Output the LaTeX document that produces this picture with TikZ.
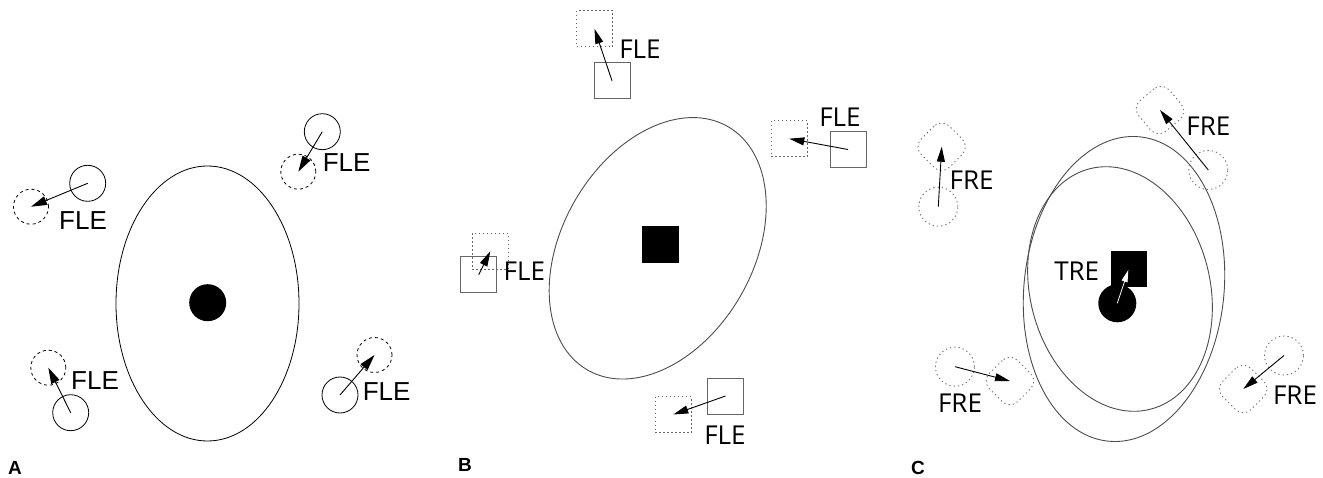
\documentclass[tikz,border=0pt]{standalone}
\usepackage{fontspec}
\setmainfont{Liberation Sans}
\newfontfamily\osans{Open Sans}
\usetikzlibrary{shapes.geometric,arrows.meta}
\tikzset{
  solidc/.style={circle,draw,line width=0.8pt,minimum size=36pt,inner sep=0pt},
  dashc/.style={circle,draw,line width=0.8pt,dash pattern=on 3pt off 3pt,minimum size=35pt,inner sep=0pt},
  arr/.style={line width=0.9pt,-{Triangle[length=16pt,width=9pt]}},
  barr/.style={line width=0.9pt,-{Triangle[length=15pt,width=8pt]}},
  solids/.style={rectangle,draw=black!60,line width=1pt,minimum size=36pt,inner sep=0pt},
  dots/.style={rectangle,draw=black!60,line width=0.9pt,dash pattern=on 1.5pt off 2.5pt,minimum size=36pt,inner sep=0pt},
  dotc/.style={circle,draw=black!55,line width=0.9pt,dash pattern=on 1.3pt off 3pt,minimum size=39pt,inner sep=0pt},
  dotr/.style={rectangle,rounded corners=11pt,draw=black!55,line width=0.9pt,dash pattern=on 1.3pt off 3pt,minimum size=40pt,inner sep=0pt},
  bigell/.style={ellipse,draw=black!70,line width=0.9pt,inner sep=0pt},
  lblA/.style={inner sep=0pt,font=\fontsize{26}{30}\selectfont},
  lblB/.style={inner sep=0pt,font=\osans\fontsize{26}{30}\selectfont},
  panel/.style={inner sep=0pt,font=\bfseries\fontsize{19}{21}\selectfont},
}
\begin{document}
\begin{tikzpicture}[x=1pt,y=-1pt]
\useasboundingbox (0,0) rectangle (1323,478);
% ---------------- Panel A ----------------
\node[ellipse,draw,line width=0.8pt,minimum width=183pt,minimum height=275pt,inner sep=0pt] (aell) at (207.5,303.5) {};
\node[circle,fill=black,minimum size=37pt,inner sep=0pt] (adot) at (207.7,302.7) {};
% upper left
\node[solidc] (a1s) at (87.7,183.3) {};
\node[dashc] (a1d) at (31,206.7) {};
\draw[arr] (a1s.center) -- (a1d.center);
\node[lblA] (a1l) at (83,220.7) {FLE};
% upper right
\node[solidc] (a2s) at (322.3,131.7) {};
\node[dashc] (a2d) at (298.3,171.7) {};
\draw[arr] (a2s.center) -- (a2d.center);
\node[lblA] (a2l) at (346.7,162.7) {FLE};
% lower left
\node[solidc] (a3s) at (70.7,412.7) {};
\node[dashc] (a3d) at (48.3,367.7) {};
\draw[arr] (a3s.center) -- (a3d.center);
\node[lblA] (a3l) at (95,381) {FLE};
% lower right
\node[solidc] (a4s) at (340,395) {};
\node[dashc] (a4d) at (374.5,355) {};
\draw[arr] (a4s.center) -- (a4d.center);
\node[lblA] (a4l) at (386.7,391.7) {FLE};
\node[panel] (pa) at (15,468) {A};
% ---------------- Panel B ----------------
\node[bigell,minimum width=281pt,minimum height=191pt,rotate=60] (bell) at (657.7,248.3) {};
\node[rectangle,fill=black,minimum size=37pt,inner sep=0pt] (bsq) at (660.7,245) {};
% top
\node[solids] (b1s) at (612,80.8) {};
\node[dots] (b1d) at (594.5,28.8) {};
\draw[barr] (b1s.center) -- (b1d.center);
\node[lblB] (b1l) at (640,49) {FLE};
% right
\node[solids] (b2s) at (848,149.5) {};
\node[dots] (b2d) at (789.3,138.7) {};
\draw[barr] (b2s.center) -- (b2d.center);
\node[lblB] (b2l) at (840,117.3) {FLE};
% left
\node[solids] (b3s) at (478.7,274.7) {};
\node[dots] (b3d) at (490.3,251.3) {};
\draw[barr] (b3s.center) -- (b3d.center);
\node[lblB] (b3l) at (524.3,271.7) {FLE};
% bottom
\node[solids] (b4s) at (725.5,396) {};
\node[dots] (b4d) at (673.3,414.5) {};
\draw[barr] (b4s.center) -- (b4d.center);
\node[lblB] (b4l) at (725,435) {FLE};
\node[panel] (pb) at (465,465) {B};
% ---------------- Panel C ----------------
\node[bigell,minimum width=200pt,minimum height=306pt,rotate=-6] (cout) at (1124,289) {};
\node[bigell,minimum width=180pt,minimum height=248pt,rotate=14] (cin) at (1120,289) {};
\node[rectangle,fill=black,minimum size=36pt,inner sep=0pt] (csq) at (1128.8,269.3) {};
\node[circle,fill=black,minimum size=38pt,inner sep=0pt] (cdot) at (1117.3,303.3) {};
\coordinate (ctip) at (1128.3,270);
\draw[white,line width=0.8pt,-{Triangle[length=12pt,width=6pt]}] (cdot.center) -- (ctip);
\node[lblB] (ctre) at (1076.7,271.7) {TRE};
% upper left
\node[dotc] (c1s) at (938.3,206.7) {};
\node[dotr,rotate=45] (c1d) at (941.7,146.7) {};
\draw[barr] (c1s.center) -- (c1d.center);
\node[lblB] (c1l) at (971.7,180) {FRE};
% upper right
\node[dotc] (c2s) at (1208.3,170) {};
\node[dotr,rotate=40] (c2d) at (1160,110) {};
\draw[barr] (c2s.center) -- (c2d.center);
\node[lblB] (c2l) at (1208.3,126.7) {FRE};
% lower left
\node[dotc] (c3s) at (955,366.7) {};
\node[dotr,rotate=45] (c3d) at (1010,381) {};
\draw[barr] (c3s.center) -- (c3d.center);
\node[lblB] (c3l) at (960,403.3) {FRE};
% lower right
\node[dotc] (c4s) at (1284,355.5) {};
\node[dotr,rotate=45] (c4d) at (1243.3,389) {};
\draw[barr] (c4s.center) -- (c4d.center);
\node[lblB] (c4l) at (1295,395) {FRE};
\node[panel] (pc) at (918,468) {C};
\end{tikzpicture}
\end{document}
